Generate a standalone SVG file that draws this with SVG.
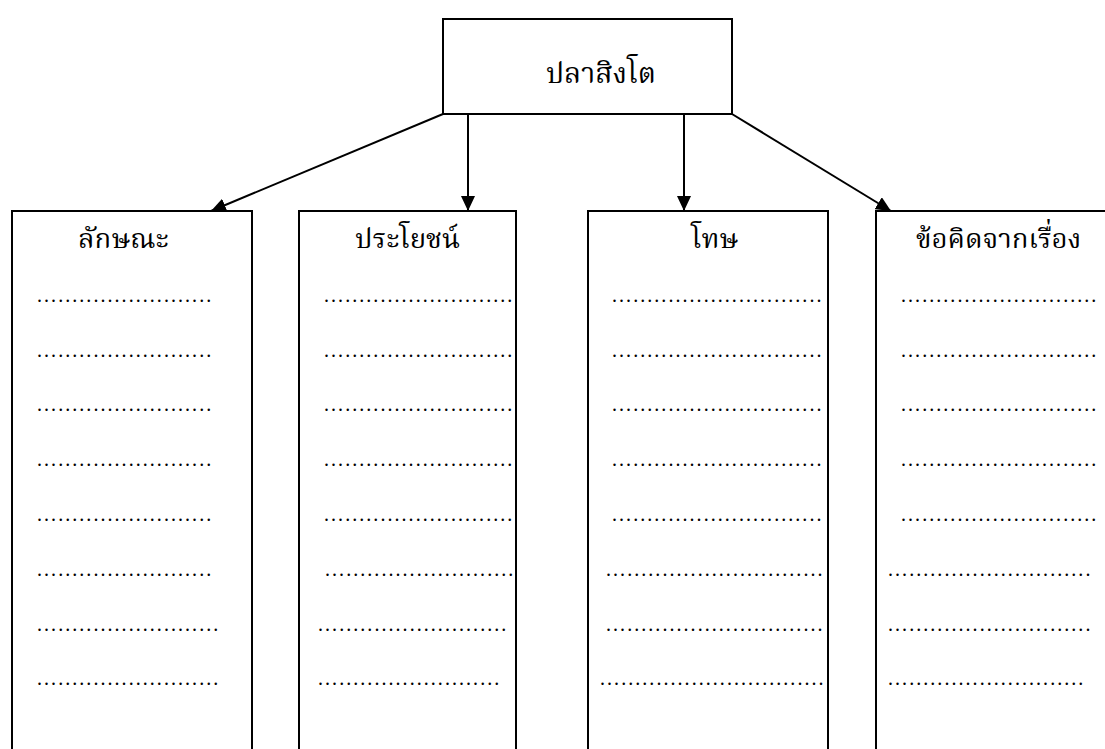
<svg xmlns="http://www.w3.org/2000/svg" width="1105" height="749" viewBox="0 0 1105 749">
<defs>
<style>
.box{fill:#fff;stroke:#000;stroke-width:2}
.con{stroke:#000;stroke-width:2;fill:none}
.th{font-family:"Noto Serif Thai","Noto Sans Thai","Norasi","Loma","Liberation Serif","DejaVu Serif",serif;font-size:27.5px;fill:#000}
.top{font-size:28.5px}
.dots{font-family:"Liberation Serif",serif;font-size:20px;letter-spacing:2.05px;fill:#000}
</style>
<marker id="ah" markerUnits="userSpaceOnUse" markerWidth="15" markerHeight="14" refX="15" refY="7" orient="auto" viewBox="0 0 15 14">
<path d="M0,0 L15,7 L0,14 z" fill="#000"/>
</marker>
</defs>
<rect width="1105" height="749" fill="#fff"/>
<g id="connectors">
<line class="con" x1="443" y1="114" x2="211" y2="211" marker-end="url(#ah)"/>
<line class="con" x1="468" y1="114" x2="468" y2="211" marker-end="url(#ah)"/>
<line class="con" x1="684" y1="114" x2="684" y2="211" marker-end="url(#ah)"/>
<line class="con" x1="732" y1="114" x2="891" y2="211" marker-end="url(#ah)"/>
</g>
<g id="node-root">
<rect class="box" x="443" y="19" width="289" height="95"/>
<text class="th top" x="546" y="83">ปลาสิงโต</text>
</g>
<g id="node-characteristics">
<rect class="box" x="12" y="211" width="240" height="560"/>
<text class="th" x="78" y="248">ลักษณะ</text>
<text class="dots" x="37" y="302">.........................</text>
<text class="dots" x="37" y="357">.........................</text>
<text class="dots" x="37" y="411">.........................</text>
<text class="dots" x="37" y="466">.........................</text>
<text class="dots" x="37" y="521">.........................</text>
<text class="dots" x="37" y="576">.........................</text>
<text class="dots" x="37" y="631">..........................</text>
<text class="dots" x="37" y="685">..........................</text>
</g>
<g id="node-benefits">
<rect class="box" x="299" y="211" width="217" height="560"/>
<text class="th" x="355" y="248">ประโยชน์</text>
<text class="dots" x="324" y="302">...........................</text>
<text class="dots" x="324" y="357">...........................</text>
<text class="dots" x="324" y="411">...........................</text>
<text class="dots" x="324" y="466">...........................</text>
<text class="dots" x="324" y="521">...........................</text>
<text class="dots" x="325" y="576">...........................</text>
<text class="dots" x="318" y="631">...........................</text>
<text class="dots" x="318" y="685">..........................</text>
</g>
<g id="node-harms">
<rect class="box" x="588" y="211" width="240" height="560"/>
<text class="th" x="691" y="248">โทษ</text>
<text class="dots" x="612" y="302">..............................</text>
<text class="dots" x="612" y="357">..............................</text>
<text class="dots" x="612" y="411">..............................</text>
<text class="dots" x="612" y="466">..............................</text>
<text class="dots" x="612" y="521">..............................</text>
<text class="dots" x="606" y="576">...............................</text>
<text class="dots" x="606" y="631">...............................</text>
<text class="dots" x="600" y="685">................................</text>
</g>
<g id="node-lessons">
<rect class="box" x="876" y="211" width="260" height="560"/>
<text class="th" x="916" y="248">ข้อคิดจากเรื่อง</text>
<text class="dots" x="901" y="302">............................</text>
<text class="dots" x="901" y="357">............................</text>
<text class="dots" x="901" y="411">............................</text>
<text class="dots" x="901" y="466">............................</text>
<text class="dots" x="901" y="521">............................</text>
<text class="dots" x="888" y="576">.............................</text>
<text class="dots" x="888" y="631">.............................</text>
<text class="dots" x="888" y="685">............................</text>
</g>
</svg>
